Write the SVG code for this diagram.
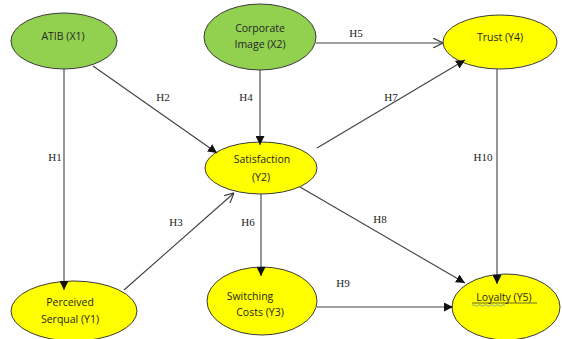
<svg xmlns="http://www.w3.org/2000/svg" width="562" height="339" viewBox="0 0 562 339">
<style>
.n{stroke:#3a3a3a;stroke-width:1}
.g{fill:#92D050}
.y{fill:#FFFF00}
.t{font-family:"Open Sans","Liberation Sans",sans-serif;font-size:10.5px;fill:#262626;text-anchor:middle}
.c{stroke:#404040;stroke-width:1.1;fill:none}
.f{marker-end:url(#af)}
.o{marker-end:url(#ao)}
.h{font-family:"Liberation Serif",serif;font-size:11px;fill:#222;text-anchor:middle}
</style>
<defs>
<marker id="af" viewBox="0 0 10 10" refX="10" refY="5" markerWidth="9" markerHeight="9" markerUnits="userSpaceOnUse" orient="auto">
<path d="M0,0 L10,5 L0,10 z" fill="#111"/>
</marker>
<marker id="ao" viewBox="0 0 10 10" refX="10" refY="5" markerWidth="10" markerHeight="10" markerUnits="userSpaceOnUse" orient="auto">
<path d="M0,0 L10,5 L0,10" fill="none" stroke="#404040" stroke-width="1.2"/>
</marker>
</defs>
<rect width="562" height="339" fill="#fff"/>
<g id="atib">
<ellipse class="n g" cx="64" cy="41" rx="53" ry="28"/>
<text class="t" x="63" y="40">ATIB (X1)</text>
</g>
<g id="corporate">
<ellipse class="n g" cx="260" cy="37" rx="56" ry="33"/>
<text class="t" x="260" y="32">Corporate</text>
<text class="t" x="260" y="48">Image (X2)</text>
</g>
<g id="trust">
<ellipse class="n y" cx="500" cy="42" rx="57" ry="27"/>
<text class="t" x="500" y="41">Trust (Y4)</text>
</g>
<g id="satisfaction">
<ellipse class="n y" cx="261" cy="168" rx="56" ry="26"/>
<text class="t" x="262" y="163">Satisfaction</text>
<text class="t" x="261" y="181">(Y2)</text>
</g>
<g id="perceived">
<ellipse class="n y" cx="74" cy="311" rx="63" ry="30"/>
<text class="t" x="70" y="306">Perceived</text>
<text class="t" x="70" y="323">Serqual (Y1)</text>
</g>
<g id="switching">
<ellipse class="n y" cx="262" cy="301" rx="55" ry="34"/>
<text class="t" x="250" y="300">Switching</text>
<text class="t" x="260" y="316">Costs (Y3)</text>
</g>
<g id="loyalty">
<ellipse class="n y" cx="506" cy="307" rx="54" ry="33"/>
<text class="t" x="504" y="301">Loyalty  (Y5)</text>
<line x1="472" y1="303" x2="537" y2="303" stroke="#262626" stroke-width="0.7"/>
<path d="M472,305.5 q1.5,-1.5 3,0 t3,0 t3,0 t3,0 t3,0 t3,0 t3,0 t3,0 t3,0 t3,0 t3,0" fill="none" stroke="#5b8fd6" stroke-width="0.8"/>
</g>
<g id="connectors">
<line class="c f" x1="64" y1="69" x2="64" y2="290"/>
<line class="c f" x1="93" y1="66" x2="217" y2="153"/>
<line class="c f" x1="260" y1="70" x2="260" y2="145"/>
<line class="c o" x1="316" y1="43" x2="443" y2="43"/>
<line class="c f" x1="317" y1="148" x2="465" y2="60"/>
<line class="c o" x1="124" y1="290" x2="234" y2="193"/>
<line class="c f" x1="261" y1="194" x2="261" y2="276"/>
<line class="c f" x1="300" y1="187" x2="465" y2="283"/>
<line class="c f" x1="317" y1="307" x2="453" y2="307"/>
<line class="c f" x1="497" y1="69" x2="497" y2="284"/>
<text class="h" x="55" y="161">H1</text>
<text class="h" x="163" y="101">H2</text>
<text class="h" x="176" y="226">H3</text>
<text class="h" x="246" y="101">H4</text>
<text class="h" x="356" y="37">H5</text>
<text class="h" x="248" y="226">H6</text>
<text class="h" x="391" y="101">H7</text>
<text class="h" x="380" y="223">H8</text>
<text class="h" x="343" y="287">H9</text>
<text class="h" x="483" y="161">H10</text>
</g>
</svg>
